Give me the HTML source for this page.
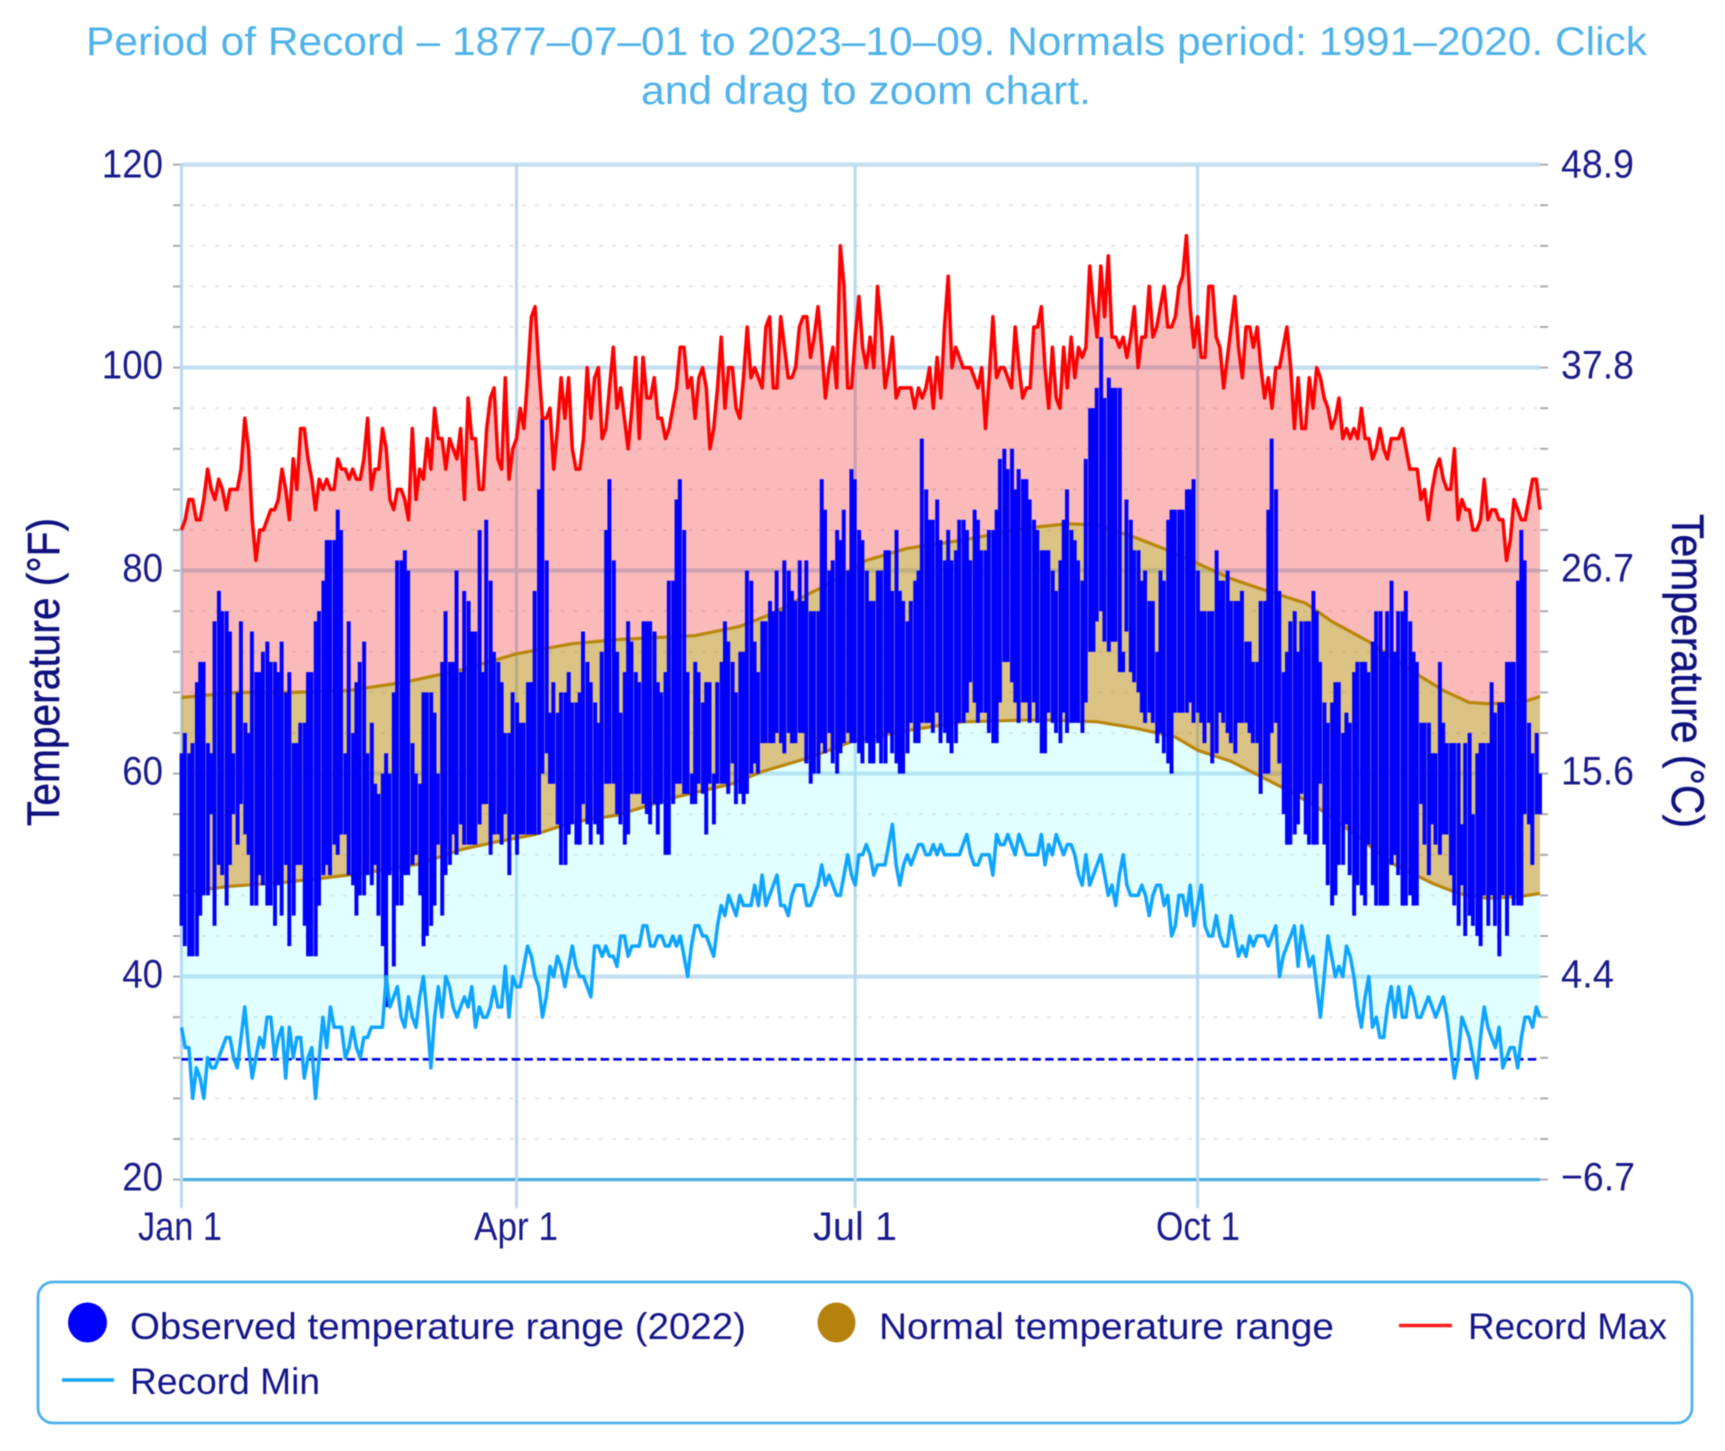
<!DOCTYPE html>
<html>
<head>
<meta charset="utf-8">
<title>Temperature chart</title>
<style>
html,body{margin:0;padding:0;background:#fff;width:1725px;height:1451px;overflow:hidden}
svg{display:block;filter:blur(0.6px)}
text{font-family:"Liberation Sans",sans-serif}
.tick{font-size:40px;fill:#1a1a8c}
.leg{font-size:37px;fill:#14148a}
.ttl{font-size:40px;fill:#4fb2e8}
.axt{font-size:45px;fill:#10107f;stroke:#10107f;stroke-width:0.5px}
</style>
</head>
<body>
<svg id="chart" xmlns="http://www.w3.org/2000/svg" width="1725" height="1451" viewBox="0 0 1725 1451">
  <text class="ttl" x="86" y="55" textLength="1561" lengthAdjust="spacingAndGlyphs">Period of Record – 1877–07–01 to 2023–10–09. Normals period: 1991–2020. Click</text>
  <text class="ttl" x="641" y="104" textLength="450" lengthAdjust="spacingAndGlyphs">and drag to zoom chart.</text>
  <g id="grid"></g>
  <g id="bands"></g>
  <g id="bars"></g>
  <g id="lines"></g>
  <g id="labels"></g>
  <text class="axt" transform="translate(59,826) rotate(-90)" textLength="308" lengthAdjust="spacingAndGlyphs">Temperature (°F)</text>
  <text class="axt" transform="translate(1672,514) rotate(90)" textLength="314" lengthAdjust="spacingAndGlyphs">Temperature (°C)</text>
  <g>
    <rect x="38" y="1282" width="1654" height="141" rx="15" ry="15" fill="#fff" stroke="#4db2e8" stroke-width="2.8"/>
    <g>
      <ellipse cx="87.5" cy="1322.5" rx="19.5" ry="20" fill="#0000ff"/>
      <text class="leg" x="130" y="1339" textLength="616" lengthAdjust="spacingAndGlyphs">Observed temperature range (2022)</text>
    </g>
    <g>
      <ellipse cx="836.5" cy="1322.5" rx="19" ry="20" fill="#b5830d"/>
      <text class="leg" x="879" y="1339" textLength="455" lengthAdjust="spacingAndGlyphs">Normal temperature range</text>
    </g>
    <g>
      <line x1="1399" x2="1452" y1="1325.5" y2="1325.5" stroke="#ff1a1a" stroke-width="3.6"/>
      <text class="leg" x="1468" y="1339" textLength="199" lengthAdjust="spacingAndGlyphs">Record Max</text>
    </g>
    <g>
      <line x1="62" x2="114" y1="1380" y2="1380" stroke="#12a4fb" stroke-width="3.6"/>
      <text class="leg" x="130" y="1394" textLength="190" lengthAdjust="spacingAndGlyphs">Record Min</text>
    </g>
  </g>
</svg>
<script>
const fTicks = [20, 40, 60, 80, 100, 120];
const cTickLabels = ["−6.7", "4.4", "15.6", "26.7", "37.8", "48.9"];
const monthDays = [0, 90, 181, 273];
const monthLabels = ["Jan 1", "Apr 1", "Jul 1", "Oct 1"];

const obsHigh = [
62,64,62,63,69,71,71,63,62,75,
78,76,76,74,62,68,75,65,64,74,
70,70,72,73,71,71,70,73,68,70,
63,63,65,65,70,70,75,76,79,83,
83,83,86,84,62,75,64,69,71,73,
62,65,59,58,60,62,60,68,81,81,
82,80,63,60,59,68,68,68,66,60,
71,76,71,71,80,70,78,77,74,74,
84,70,85,79,72,71,69,64,64,68,
67,65,65,69,69,78,88,95,81,66,
69,66,68,68,70,67,67,68,74,71,
69,67,65,72,84,89,81,72,66,70,
75,73,70,69,75,75,75,74,69,68,
70,79,79,87,89,84,70,60,71,70,
67,69,69,60,69,71,75,73,71,68,
72,72,80,79,73,70,75,75,77,76,
80,76,81,80,78,77,81,77,81,76,
76,76,89,86,80,81,84,83,86,80,
90,89,84,83,80,77,77,80,80,82,
82,78,84,78,77,75,77,79,80,93,
88,85,85,87,83,81,84,81,82,85,
85,84,81,86,85,82,82,84,84,86,
91,92,90,92,88,90,89,89,87,85,
84,82,82,82,80,78,81,85,88,84,
83,81,79,91,96,96,98,103,97,99,
98,98,98,72,87,85,82,82,79,80,
77,77,72,80,79,85,86,86,86,86,
88,88,89,80,76,76,76,76,82,79,
79,80,77,77,77,78,73,73,71,71,
77,77,86,93,88,78,70,72,75,76,
72,75,75,75,78,76,71,67,65,67,
69,69,64,66,65,70,71,71,71,70,
73,76,76,72,76,79,72,76,76,78,
75,72,71,65,65,65,62,62,71,65,
63,63,63,63,55,63,64,56,62,63,
63,63,69,66,67,67,71,71,71,79,
84,81,65,62,64,60];

const obsLow = [
45,43,42,42,42,46,48,48,56,45,
51,50,47,51,56,53,57,54,52,47,
47,50,49,47,47,45,49,46,51,43,
46,51,51,45,42,42,42,47,50,51,
50,53,52,54,54,50,49,46,48,48,
50,49,51,46,43,37,50,41,47,47,
50,50,51,52,48,43,44,45,47,53,
46,50,51,54,52,55,53,53,53,53,
55,57,57,52,54,54,53,56,50,54,
52,54,54,54,54,54,54,60,62,59,
59,55,51,51,54,55,53,53,57,55,
53,55,54,53,59,59,59,56,55,53,
54,58,58,58,57,56,55,57,54,57,
52,52,57,59,59,58,58,57,57,59,
58,54,59,55,59,59,59,58,61,57,
58,57,58,60,61,60,63,63,63,63,
64,63,62,64,63,63,64,64,61,59,
60,60,63,62,64,61,60,62,63,64,
63,63,62,61,63,61,61,63,61,61,
64,62,61,60,60,62,65,63,63,65,
65,65,64,66,63,64,63,62,63,65,
65,66,69,67,65,66,66,64,63,63,
67,71,71,69,67,65,67,67,65,67,
65,62,62,66,65,64,63,66,64,65,
65,65,64,67,72,72,75,76,73,72,
73,73,70,70,74,70,69,68,66,65,
66,65,63,64,62,61,60,66,66,66,
66,67,65,66,65,63,65,61,62,66,
65,64,63,62,65,65,65,64,63,63,
58,60,60,64,65,61,56,53,53,54,
55,58,54,53,53,53,59,53,49,47,
48,51,51,55,50,46,49,48,47,53,
49,47,47,47,47,51,52,50,47,47,
48,47,47,57,53,50,55,53,52,54,
54,50,47,45,49,44,46,45,44,43,
48,45,48,45,42,48,44,48,47,47,
47,56,55,51,56,56];

const recordMax = [
84,85,87,87,85,85,87,90,88,87,
89,88,86,88,88,88,90,95,92,85,
81,84,84,85,86,86,87,90,88,85,
91,88,94,94,91,89,86,89,88,89,
88,88,91,90,90,89,90,89,89,91,
95,88,90,90,94,92,87,86,88,88,
87,85,94,87,90,89,93,90,96,93,
93,90,93,92,91,94,87,97,93,93,
88,88,94,97,98,91,90,99,89,92,
93,96,94,99,105,106,100,95,95,96,
90,94,99,95,99,92,90,90,93,100,
95,99,100,93,94,98,102,96,98,95,
92,96,101,93,101,97,97,99,95,95,
93,94,96,98,102,102,98,99,95,99,
100,98,92,94,98,103,96,100,100,96,
95,99,104,99,100,99,98,104,105,98,
98,105,102,99,99,100,104,105,105,101,
103,106,102,97,100,102,98,112,108,98,
98,103,107,102,100,103,100,108,104,98,
100,103,97,98,98,98,98,96,98,97,
98,100,96,101,97,104,109,100,102,101,
100,100,100,99,98,100,94,99,105,99,
100,100,99,98,104,100,97,98,98,104,
104,106,100,96,102,97,96,102,98,103,
99,102,101,102,110,106,103,110,105,111,
103,103,102,103,101,103,106,100,103,103,
108,103,104,106,108,104,104,105,108,109,
113,106,102,105,101,101,108,108,103,102,
98,101,104,107,102,99,104,104,102,104,
100,97,99,96,100,100,102,104,100,94,
99,94,94,99,96,100,99,97,96,94,
95,97,93,94,93,94,93,96,93,93,
91,92,94,92,91,93,93,93,94,92,
90,90,90,87,88,85,88,90,91,89,
88,88,92,85,87,86,86,84,84,85,
89,85,86,86,85,85,81,83,87,86,
85,85,87,89,89,86];

const recordMin = [
35,33,33,28,31,30,28,32,31,31,
32,33,34,34,32,31,34,37,33,30,
32,34,33,36,36,32,34,35,30,35,
32,34,34,30,32,33,28,32,36,33,
37,35,35,35,32,33,35,33,32,34,
34,35,35,35,35,40,37,38,39,36,
35,38,36,35,38,40,36,31,36,39,
36,40,39,37,36,37,38,37,39,35,
37,36,36,37,39,37,37,41,36,40,
39,39,41,43,42,40,39,36,38,41,
40,42,41,39,41,43,41,40,40,39,
38,43,43,42,43,42,42,41,44,44,
42,43,43,43,45,45,43,43,44,44,
43,43,44,43,44,42,40,43,45,45,
44,44,43,42,45,47,46,48,47,46,
48,47,47,47,49,47,50,47,48,49,
50,47,47,46,48,49,49,49,47,47,
48,49,51,49,50,49,48,48,50,52,
50,49,52,52,53,52,50,51,51,51,
53,55,51,49,51,52,51,52,53,53,
52,52,53,52,53,52,52,52,52,52,
53,54,52,51,51,52,52,52,50,54,
53,53,54,53,52,54,53,52,52,52,
52,54,51,53,52,54,53,52,53,53,
52,50,49,52,49,50,51,52,50,48,
49,47,50,52,49,48,48,48,49,48,
46,48,49,49,47,48,44,45,48,48,
46,49,45,47,49,45,44,44,46,44,
43,43,46,44,42,43,42,44,43,44,
44,44,43,44,45,40,42,43,44,45,
41,45,43,41,42,39,36,40,44,42,
40,41,40,43,42,40,37,35,38,40,
35,36,34,34,37,39,36,39,36,36,
39,38,36,36,37,38,37,36,37,38,
36,33,30,32,36,35,34,32,30,34,
37,35,34,33,35,31,32,33,33,31,
34,36,36,35,37,36];

const normalHighDays = [0,15,30,45,60,75,90,105,117,138,150,159,169,174,184,195,210,227,238,246,256,265,273,282,290,302,309,319,331,339,346,351,360,365];
const normalHigh = [67.5,68,68,68.2,69,70.2,71.8,72.8,73.2,73.6,74.5,75.8,77.8,78.7,81,82.2,83,84.2,84.6,84.5,83.3,82,80.7,79.2,78.2,76.8,75,73,70,68.2,67,66.9,67,67.6];
const normalLowDays = [0,13,28,38,49,64,75,85,95,105,117,133,148,156,168,174,181,196,210,230,246,256,267,273,282,290,297,305,315,325,336,343,351,360,365];
const normalLow = [48.3,48.9,49.3,49.7,50.2,51.1,52.5,53.3,54,55.2,55.9,57.7,59,60.2,61.5,62.3,63.3,64.3,65.1,65.3,65.1,64.5,63.6,62.3,61.2,59.7,58.4,56.7,54.1,51.2,49.2,48.2,47.7,47.9,48.2];
const freezingLine = 32;

const NS = "http://www.w3.org/2000/svg";
const X0 = 181.5, XK = 3.722, Y20 = 1179.6, YK = 10.15;
const xScale = d => X0 + XK * d;
const yScale = t => Y20 - (t - 20) * YK;
const XEND = xScale(365);
const make = (tag, parent) => { const el = document.createElementNS(NS, tag); parent.appendChild(el); return el; };
const gridG = document.getElementById("grid");
const bandsG = document.getElementById("bands");
const barsG = document.getElementById("bars");
const linesG = document.getElementById("lines");
const labelsG = document.getElementById("labels");

// minor dotted grid and tick marks, every 4 degF
for (let t = 20; t <= 120; t += 4) {
  const y = yScale(t);
  if (t % 20 !== 0) {
    const dot = make("line", gridG);
    
    
    dot.setAttribute("x1", X0 + 8); dot.setAttribute("x2", XEND);
    dot.setAttribute("y1", y); dot.setAttribute("y2", y);
    dot.setAttribute("stroke", "#e6e6e6"); dot.setAttribute("stroke-width", "2");
    dot.setAttribute("stroke-dasharray", "4 8.8");
  }
  [[173, X0], [XEND, XEND + 8]].forEach(([a, b]) => {
    const tk = make("line", gridG);
    
    
    tk.setAttribute("x1", a); tk.setAttribute("x2", b);
    tk.setAttribute("y1", y); tk.setAttribute("y2", y);
    tk.setAttribute("stroke", "#ababab"); tk.setAttribute("stroke-width", "2");
  });
}
// major horizontal grid
fTicks.forEach(t => {
  const ln = make("line", gridG);
  
  
  ln.setAttribute("x1", X0); ln.setAttribute("x2", XEND);
  ln.setAttribute("y1", yScale(t)); ln.setAttribute("y2", yScale(t));
  ln.setAttribute("stroke", t === 20 ? "#4aaee4" : "#c5dff1");
  ln.setAttribute("stroke-width", t === 20 ? "3.2" : "4.4");
});
// vertical month grid
monthDays.forEach(d => {
  const ln = make("line", gridG);
  
  
  ln.setAttribute("x1", xScale(d)); ln.setAttribute("x2", xScale(d));
  ln.setAttribute("y1", yScale(120)); ln.setAttribute("y2", 1208);
  ln.setAttribute("stroke", "#b9d8f0"); ln.setAttribute("stroke-width", "3");
});

// bands
const pts = (days, vals) => vals.map((v, i) => xScale(days ? days[i] : i).toFixed(1) + "," + yScale(v).toFixed(1));
const band = (upper, lower, fill, op, name) => {
  const p = make("polygon", bandsG);
  
  
  p.setAttribute("points", upper.concat(lower.slice().reverse()).join(" "));
  p.setAttribute("fill", fill);
  p.setAttribute("fill-opacity", op);
};
const maxPts = pts(null, recordMax), minPts = pts(null, recordMin);
const nhPts = pts(normalHighDays, normalHigh), nlPts = pts(normalLowDays, normalLow);
band(maxPts, nhPts, "rgb(241,0,0)", 0.27, "record-high-band");
band(nhPts, nlPts, "rgb(184,134,11)", 0.5, "normal-range-band");
band(nlPts, minPts, "rgb(128,255,255)", 0.23, "record-low-band");

const poly = (parent, p, color, w, name) => {
  const l = make("polyline", parent);
  
  
  l.setAttribute("points", p.join(" "));
  l.setAttribute("fill", "none");
  l.setAttribute("stroke", color);
  l.setAttribute("stroke-width", w);
  l.setAttribute("stroke-linejoin", "round");
};
poly(bandsG, nhPts, "#b8860b", 3.2, "normal-high-line");
poly(bandsG, nlPts, "#b8860b", 3.2, "normal-low-line");

// observed bars, snapped to a coarse pixel grid so thin slits appear between some bars
obsHigh.forEach((hi, d) => {
  const r = make("rect", barsG);
  
  
  r.setAttribute("x", (Math.round(xScale(d) / 1.1) * 1.1 - 1.95).toFixed(2));
  r.setAttribute("width", "3.95");
  r.setAttribute("y", yScale(hi).toFixed(1));
  r.setAttribute("height", (yScale(obsLow[d]) - yScale(hi)).toFixed(1));
  r.setAttribute("fill", "#0000ff");
});

// freezing line and records
const fz = make("line", linesG);


fz.setAttribute("x1", X0); fz.setAttribute("x2", XEND);
fz.setAttribute("y1", yScale(freezingLine) + 1.5); fz.setAttribute("y2", yScale(freezingLine) + 1.5);
fz.setAttribute("stroke", "#0000e6"); fz.setAttribute("stroke-width", "2.6");
fz.setAttribute("stroke-dasharray", "8.5 4.2");
poly(linesG, maxPts, "#ff0000", 3.5, "record-max-line");
poly(linesG, minPts, "#0ea4ff", 3.5, "record-min-line");

// tick labels
const label = (txt, x, y, anchor, len, name) => {
  const t = make("text", labelsG);
  
  
  t.setAttribute("class", "tick");
  t.setAttribute("x", x); t.setAttribute("y", y);
  t.setAttribute("text-anchor", anchor);
  t.setAttribute("textLength", len);
  t.setAttribute("lengthAdjust", "spacingAndGlyphs");
  t.textContent = txt;
};
fTicks.forEach((v, i) => {
  const off = v === 120 ? 13 : 11;
  const s = String(v);
  label(s, 163, yScale(v) + off, "end", s.length * 20.4, "left-y-tick-label");
  const c = cTickLabels[i];
  label(c, 1561, yScale(v) + off, "start", c === "4.4" ? 53 : c === "−6.7" ? 74 : 73, "right-y-tick-label");
});
monthDays.forEach((d, i) => {
  const cx = [180, 516, 855, 1198][i];
  label(monthLabels[i], cx, 1240, "middle", 84, "x-tick-label");
});
</script>
</body>
</html>
